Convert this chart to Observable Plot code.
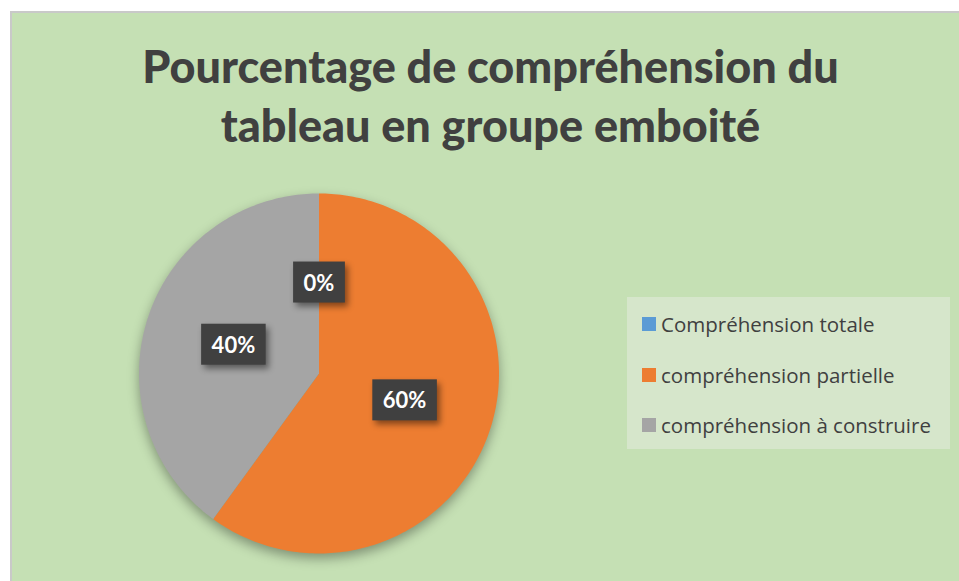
<!DOCTYPE html>
<html>
<head>
<meta charset="utf-8">
<script src="https://cdn.jsdelivr.net/npm/d3@7"></script>
<script src="https://cdn.jsdelivr.net/npm/@observablehq/plot@0.6"></script>
<style>
  html, body { margin: 0; padding: 0; background: #ffffff; }
  #wrap { position: relative; width: 959px; height: 581px; overflow: hidden; background: #fff; }
  #frame { position: absolute; left: 10px; top: 11px; width: 960px; height: 580px; border: 2px solid #c9c9c9; background: #c5e0b4; box-sizing: border-box; }
  #title { position: absolute; left: 0; top: 37px; width: 981px; text-align: center; font-family: Lato, "Open Sans", sans-serif; font-weight: 900; font-size: 45px; line-height: 59px; color: #404040; }
  #chart { position: absolute; left: 0; top: 0; }
  #legend { position: absolute; left: 627px; top: 297px; width: 323px; height: 152px; background: #d6e6cb; box-sizing: border-box; padding: 2px 0 0 15px; font-family: "Open Sans", sans-serif; }
  #legend, #legend * { font-family: "Open Sans", sans-serif !important; color: #404040 !important; }
  #legend > div { margin: 0 !important; }
  #legend [class$="-swatch"] { height: 50.5px; padding-bottom: 0 !important; align-items: center; font-size: 20.5px !important; }
  #legend [class$="-swatch"] svg { margin-right: 5px !important; }
  #chart g[aria-label="line"] { filter: drop-shadow(0px 5px 6px rgba(0,0,0,0.35)); }
  .lblbox { filter: drop-shadow(3px 4px 3px rgba(0,0,0,0.45)); }
</style>
</head>
<body>
<div id="wrap">
  <div id="frame"></div>
  <div id="title">Pourcentage de compréhension du<br>tableau en groupe emboité</div>
  <div id="chart"></div>
  <div id="legend"></div>
</div>
<script>
// ---- Data ----
const categories = ["Compréhension totale", "compréhension partielle", "compréhension à construire"];
const values = [0, 60, 40];
const labels = ["0%", "60%", "40%"];
const colors = ["#5b9bd5", "#ed7d31", "#a5a5a5"];

// ---- Geometry (unit circle, clockwise from 12 o'clock) ----
const arcs = d3.pie().sort(null).value(d => d)(values);
const piePoints = [];
arcs.forEach((a, i) => {
  const cat = categories[i];
  piePoints.push({cat, x: 0, y: 0});
  const steps = Math.max(1, Math.ceil((a.endAngle - a.startAngle) / (Math.PI / 180)));
  for (let s = 0; s <= steps; s++) {
    const t = a.startAngle + (a.endAngle - a.startAngle) * s / steps;
    piePoints.push({cat, x: Math.sin(t), y: Math.cos(t)});
  }
  piePoints.push({cat, x: 0, y: 0});
});
const labelPoints = arcs.map((a, i) => {
  const m = (a.startAngle + a.endAngle) / 2;
  return {text: labels[i], x: 0.5 * Math.sin(m), y: 0.5 * Math.cos(m)};
});

const cx = 318.5, cy = 373, R = 180;
const plot = Plot.plot({
  width: 959,
  height: 581,
  margin: 0,
  style: {background: "transparent", overflow: "visible"},
  x: {domain: [-1, 1], range: [cx - R, cx + R], axis: null},
  y: {domain: [-1, 1], range: [cy + R, cy - R], axis: null},
  color: {domain: categories, range: colors},
  marks: [
    Plot.line(piePoints, {x: "x", y: "y", z: "cat", fill: "cat", stroke: "none", curve: "linear"}),
    Plot.text(labelPoints, {x: "x", y: "y", text: "text", fill: "white", fontSize: 22, fontWeight: "bold",
      fontFamily: "Lato, 'Open Sans', sans-serif"})
  ]
});
document.getElementById("chart").appendChild(plot);

// label boxes behind the texts
const lg = plot.querySelector('g[aria-label="text"]');
if (lg) {
  lg.querySelectorAll("text").forEach(t => {
    const b = t.getBBox();
    const w = b.width + 21, h = 41;
    const r = document.createElementNS("http://www.w3.org/2000/svg", "rect");
    r.setAttribute("x", b.x + b.width / 2 - w / 2);
    r.setAttribute("y", b.y + b.height / 2 - h / 2);
    r.setAttribute("width", w);
    r.setAttribute("height", h);
    r.setAttribute("fill", "#404040");
    r.setAttribute("class", "lblbox");
    const tr = t.getAttribute("transform");
    if (tr) r.setAttribute("transform", tr);
    t.parentNode.insertBefore(r, t);
  });
}

const legend = Plot.legend({
  color: {domain: categories, range: colors},
  legend: "swatches",
  columns: 1,
  swatchSize: 14,
  className: "lg"
});
document.getElementById("legend").appendChild(legend);
</script>
</body>
</html>
